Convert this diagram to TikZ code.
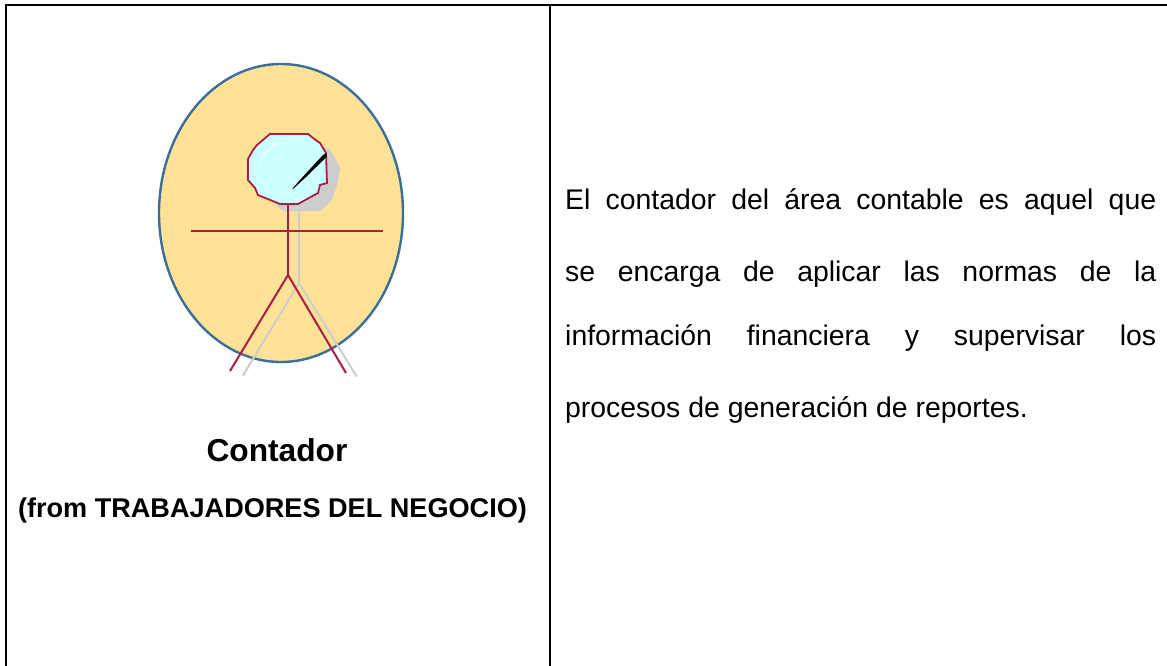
\documentclass[tikz,border=0pt]{standalone}
\usepackage{fontspec}
\usetikzlibrary{shapes.geometric}
\setmainfont{Liberation Sans}
\definecolor{fillY}{RGB}{255,226,150}
\definecolor{edgeB}{RGB}{60,110,155}
\definecolor{crim}{RGB}{170,30,70}
\definecolor{shadowG}{RGB}{205,205,205}
\definecolor{headC}{RGB}{204,255,255}
\tikzset{
  frame/.style={line width=2pt,black},
  redline/.style={crim,line width=2pt},
  grayline/.style={shadowG,line width=2pt},
  bodytxt/.style={anchor=base west,inner sep=0pt,font=\fontsize{28.4}{28.4}\selectfont,text=black},
}
\begin{document}
\begin{tikzpicture}[x=1pt,y=-1pt]
\useasboundingbox (0,0) rectangle (1167,666);
\fill[white] (0,0) rectangle (1167,666);
\coordinate (tl) at (6,5);
\coordinate (tm) at (550,5);
\coordinate (tr) at (1167,5);
\coordinate (bl) at (6,666);
\coordinate (bm) at (550,666);
\draw[frame] (bl) -- (tl) -- (tr);
\draw[frame] (tm) -- (bm);
\node[draw=edgeB,line width=2.4pt,fill=fillY,ellipse,minimum width=244pt,minimum height=298pt,inner sep=0pt] (oval) at (281,213) {};
% shadow
\fill[shadowG] (325,147) -- (332,152) -- (340,168) -- (338,182) -- (332,200) -- (320,211) -- (283,211) -- (275,204) -- cycle;
% gray body
\draw[grayline] (299,204) -- (299,283);
\draw[grayline] (243,375.5) -- (299,283) -- (356.7,376.5);
% head
\draw[crim,line width=1.8pt,fill=headC] (270,134) -- (308,134) -- (315,139.5) -- (320,143) -- (326,153) -- (327,183) -- (320,185) -- (318,193) -- (298,204) -- (280,204) -- (258,195) -- (255,188) -- (248,180) -- (248,159) -- (253,150) -- (257,145) -- cycle;
\draw[white,line width=1pt] (258.5,167) -- (263,155) -- (275,144) -- (288,143.5);
\fill[black] (326,153) -- (327,156.5) -- (306,177) -- (293,189) -- (292.5,188.5) -- (304,175.5) -- (323,155) -- cycle;
% red body
\draw[redline] (288,204) -- (288,275);
\draw[redline] (191,231) -- (383,231);
\draw[redline] (230,371) -- (288,275) -- (346,373);
% text
\node[anchor=base,inner sep=0pt,font=\bfseries\fontsize{31.7}{31.7}\selectfont] (name) at (277,461) {Contador};
\node[anchor=base,inner sep=0pt,font=\bfseries\fontsize{27.1}{27.1}\selectfont] (from) at (272.5,517) {(from TRABAJADORES DEL NEGOCIO)};
\node[bodytxt,text width=591pt] (l1) at (565,209) {El\hfill contador\hfill del\hfill área\hfill contable\hfill es\hfill aquel\hfill que};
\node[bodytxt,text width=591pt] (l2) at (565,281) {se\hfill encarga\hfill de\hfill aplicar\hfill las\hfill normas\hfill de\hfill la};
\node[bodytxt,text width=591pt] (l3) at (565,345) {información\hfill financiera\hfill y\hfill supervisar\hfill los};
\node[bodytxt] (l4) at (565,417) {procesos de generación de reportes.};
\end{tikzpicture}
\end{document}
